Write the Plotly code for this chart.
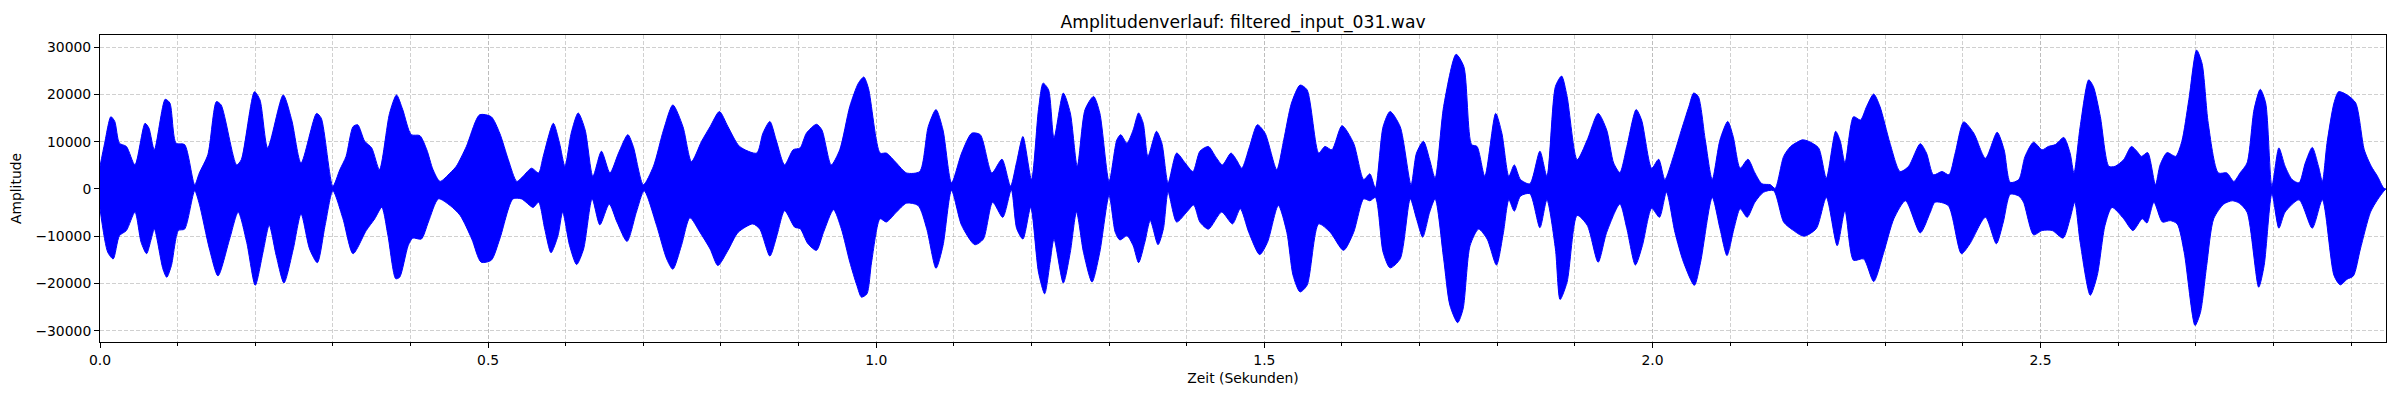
import plotly.graph_objects as go

# ---- data (envelope of the waveform) ----
t_upper = [0.000, 0.006, 0.014, 0.019, 0.025, 0.034, 0.045, 0.058, 0.063, 0.070,
           0.084, 0.090, 0.098, 0.109, 0.122, 0.128, 0.139, 0.150, 0.156, 0.176,
           0.182, 0.199, 0.206, 0.216, 0.236, 0.247, 0.259, 0.279, 0.285, 0.300,
           0.309, 0.317, 0.326, 0.332, 0.341, 0.350, 0.360, 0.373, 0.382, 0.390,
           0.401, 0.412, 0.421, 0.429, 0.438, 0.451, 0.459, 0.472, 0.489, 0.504,
           0.515, 0.526, 0.537, 0.545, 0.556, 0.565, 0.571, 0.584, 0.592, 0.599,
           0.607, 0.616, 0.625, 0.635, 0.646, 0.657, 0.668, 0.680, 0.687, 0.700,
           0.713, 0.726, 0.738, 0.751, 0.762, 0.775, 0.786, 0.798, 0.809, 0.824,
           0.846, 0.854, 0.863, 0.871, 0.882, 0.893, 0.902, 0.910, 0.923, 0.930,
           0.942, 0.953, 0.966, 0.977, 0.984, 0.990, 1.005, 1.013, 1.026, 1.039,
           1.056, 1.067, 1.077, 1.086, 1.097, 1.110, 1.123, 1.134, 1.149, 1.162,
           1.173, 1.181, 1.189, 1.200, 1.209, 1.215, 1.222, 1.229, 1.241, 1.250,
           1.259, 1.269, 1.280, 1.288, 1.300, 1.310, 1.315, 1.323, 1.331, 1.338,
           1.344, 1.350, 1.361, 1.368, 1.376, 1.387, 1.398, 1.408, 1.417, 1.428,
           1.437, 1.446, 1.457, 1.464, 1.471, 1.481, 1.491, 1.501, 1.516, 1.525,
           1.535, 1.546, 1.555, 1.570, 1.578, 1.587, 1.600, 1.615, 1.628, 1.636,
           1.643, 1.653, 1.662, 1.675, 1.689, 1.696, 1.705, 1.713, 1.720, 1.731,
           1.747, 1.757, 1.767, 1.774, 1.784, 1.798, 1.806, 1.815, 1.822, 1.830,
           1.842, 1.855, 1.864, 1.875, 1.883, 1.890, 1.903, 1.916, 1.930, 1.941,
           1.950, 1.958, 1.967, 1.979, 1.986, 1.999, 2.008, 2.016, 2.027, 2.036,
           2.047, 2.053, 2.059, 2.068, 2.077, 2.087, 2.097, 2.104, 2.113, 2.123,
           2.132, 2.141, 2.152, 2.158, 2.169, 2.178, 2.193, 2.201, 2.214, 2.224,
           2.236, 2.242, 2.248, 2.259, 2.268, 2.276, 2.285, 2.293, 2.306, 2.319,
           2.330, 2.345, 2.353, 2.362, 2.373, 2.382, 2.390, 2.401, 2.414, 2.429,
           2.444, 2.453, 2.461, 2.472, 2.480, 2.491, 2.502, 2.510, 2.519, 2.530,
           2.538, 2.543, 2.551, 2.562, 2.568, 2.577, 2.588, 2.596, 2.607, 2.617,
           2.624, 2.630, 2.638, 2.648, 2.654, 2.663, 2.674, 2.682, 2.691, 2.701,
           2.708, 2.716, 2.729, 2.740, 2.749, 2.757, 2.766, 2.775, 2.783, 2.790,
           2.798, 2.807, 2.815, 2.824, 2.833, 2.841, 2.850, 2.858, 2.863, 2.869,
           2.878, 2.884, 2.895, 2.906, 2.917, 2.926, 2.934, 2.942, 2.945]
amp_upper = [4800, 9700, 15300, 14300, 9700, 9000, 5100, 13900, 12900, 8300,
             19000, 18200, 9700, 9400, 900, 3400, 7300, 18500, 17800, 5100,
             6200, 20600, 18900, 8700, 19900, 14600, 5500, 16000, 15000, 600,
             4100, 6900, 13200, 13600, 10100, 8700, 4100, 16000, 19900, 16800,
             11500, 11300, 8300, 4100, 1600, 3400, 4800, 9000, 15700, 15300,
             11800, 6200, 1600, 2700, 4400, 3400, 6900, 13900, 9700, 4800,
             11800, 16100, 12500, 2700, 8000, 3400, 7600, 11500, 9000, 900,
             4800, 12500, 17800, 13200, 5800, 10100, 13200, 16400, 13200, 9000,
             7600, 11800, 14300, 10400, 5100, 8300, 8700, 11800, 13700, 12500,
             5100, 8300, 17500, 22400, 23700, 21300, 7600, 7600, 5500, 3400,
             3700, 13200, 16800, 12500, 1300, 7600, 11800, 11500, 3400, 6300,
             600, 5800, 11100, 2000, 16800, 22400, 21000, 10800, 20300, 16100,
             4800, 16800, 19600, 16100, 1600, 10400, 11500, 9700, 12500, 16100,
             13900, 6900, 12200, 9700, 1300, 7600, 5500, 3700, 8000, 9000,
             6900, 5100, 7600, 6200, 4400, 9000, 13600, 11800, 4100, 10400,
             18200, 22000, 21000, 7600, 9000, 8300, 13400, 9700, 2000, 3200,
             200, 13200, 16400, 13200, 900, 7600, 10100, 6200, 2300, 17500,
             28500, 25900, 9400, 9000, 2700, 16000, 11800, 2700, 5100, 2000,
             1100, 8000, 2700, 21700, 23900, 19600, 6200, 10400, 16000, 12500,
             5500, 3500, 9000, 16800, 14600, 4400, 6300, 2000, 6900, 11800,
             17500, 20300, 19600, 10400, 2000, 10400, 14300, 11100, 4400, 6300,
             3400, 1100, 900, 100, 6900, 9000, 10400, 10100, 8700, 2300,
             12200, 10100, 5500, 15300, 14600, 17500, 20100, 17500, 9700, 3700,
             4800, 9600, 7600, 3000, 3700, 3000, 7600, 14200, 11800, 6500,
             12000, 8300, 1400, 2000, 6900, 9900, 8300, 9000, 9400, 10900,
             7600, 3400, 13200, 23100, 21700, 15300, 4800, 4800, 6200, 9000,
             8000, 6900, 7700, 900, 5100, 7700, 6900, 10100, 18900, 29400,
             26600, 13900, 3400, 3400, 1600, 3400, 5500, 16800, 21100, 18200,
             600, 8700, 4800, 2000, 1300, 5500, 8800, 4800, 1600, 9700,
             18200, 20600, 19900, 18200, 8300, 4800, 2700, 200, 0]

t_lower = [0.000, 0.010, 0.017, 0.025, 0.034, 0.045, 0.053, 0.060, 0.066, 0.070,
           0.081, 0.086, 0.092, 0.101, 0.109, 0.122, 0.128, 0.141, 0.152, 0.167,
           0.178, 0.189, 0.200, 0.210, 0.218, 0.227, 0.237, 0.249, 0.259, 0.270,
           0.280, 0.290, 0.300, 0.313, 0.326, 0.343, 0.354, 0.363, 0.371, 0.381,
           0.386, 0.397, 0.403, 0.414, 0.423, 0.436, 0.451, 0.464, 0.479, 0.491,
           0.504, 0.515, 0.532, 0.543, 0.558, 0.565, 0.573, 0.581, 0.590, 0.596,
           0.605, 0.614, 0.623, 0.634, 0.644, 0.656, 0.666, 0.679, 0.691, 0.701,
           0.717, 0.730, 0.738, 0.749, 0.760, 0.773, 0.786, 0.796, 0.809, 0.822,
           0.841, 0.850, 0.863, 0.872, 0.882, 0.895, 0.902, 0.912, 0.923, 0.932,
           0.945, 0.955, 0.966, 0.975, 0.981, 0.988, 0.994, 1.005, 1.013, 1.026,
           1.039, 1.054, 1.065, 1.077, 1.086, 1.097, 1.110, 1.127, 1.138, 1.150,
           1.163, 1.174, 1.181, 1.189, 1.199, 1.209, 1.217, 1.224, 1.229, 1.241,
           1.250, 1.258, 1.267, 1.278, 1.288, 1.300, 1.308, 1.314, 1.323, 1.331,
           1.338, 1.346, 1.353, 1.363, 1.370, 1.376, 1.387, 1.400, 1.409, 1.417,
           1.428, 1.445, 1.459, 1.469, 1.480, 1.494, 1.504, 1.518, 1.529, 1.537,
           1.546, 1.555, 1.570, 1.585, 1.602, 1.615, 1.628, 1.636, 1.643, 1.653,
           1.662, 1.675, 1.688, 1.696, 1.704, 1.713, 1.720, 1.731, 1.739, 1.749,
           1.756, 1.765, 1.776, 1.787, 1.799, 1.808, 1.815, 1.822, 1.830, 1.842,
           1.855, 1.864, 1.875, 1.881, 1.890, 1.903, 1.916, 1.930, 1.941, 1.958,
           1.967, 1.978, 1.987, 1.999, 2.009, 2.018, 2.029, 2.040, 2.054, 2.062,
           2.077, 2.087, 2.096, 2.105, 2.113, 2.122, 2.132, 2.143, 2.156, 2.169,
           2.180, 2.195, 2.211, 2.224, 2.238, 2.248, 2.259, 2.272, 2.285, 2.298,
           2.311, 2.326, 2.345, 2.358, 2.364, 2.381, 2.398, 2.409, 2.429, 2.443,
           2.452, 2.461, 2.472, 2.478, 2.491, 2.502, 2.515, 2.529, 2.538, 2.544,
           2.551, 2.564, 2.573, 2.583, 2.592, 2.607, 2.619, 2.631, 2.637, 2.646,
           2.657, 2.667, 2.676, 2.685, 2.699, 2.706, 2.714, 2.723, 2.736, 2.747,
           2.756, 2.766, 2.781, 2.788, 2.798, 2.807, 2.815, 2.833, 2.850, 2.863,
           2.878, 2.886, 2.895, 2.903, 2.912, 2.925, 2.934, 2.942, 2.945]
amp_lower = [-4200, -13400, -14800, -9900, -8800, -4900, -11300, -13700, -10600, -8500,
             -16900, -18700, -16200, -8800, -8500, -400, -3200, -12700, -18400, -10600,
             -4900, -11300, -20400, -13400, -7700, -14100, -19900, -12700, -5300, -12700,
             -15600, -7700, -400, -6300, -13700, -8800, -6300, -3900, -9900, -19000,
             -18700, -12000, -10400, -10600, -7000, -2100, -3500, -5600, -10600, -15500,
             -15100, -10600, -2100, -2100, -3900, -2800, -8500, -13500, -9900, -4900,
             -12000, -16000, -12700, -2100, -7600, -3200, -7000, -11100, -4900, -400,
             -7700, -14800, -17000, -12000, -6100, -9200, -12700, -16200, -13000, -9200,
             -7400, -8500, -14200, -9900, -4600, -8100, -8400, -11600, -13000, -9200,
             -4400, -8400, -15500, -20400, -22900, -22200, -15500, -6300, -7000, -4900,
             -3000, -3500, -8400, -16800, -12000, -300, -7700, -11800, -10600, -2800,
             -6000, -200, -8400, -10600, -3900, -17600, -22200, -15500, -10600, -19900,
             -13400, -4900, -13400, -19700, -13400, -1400, -9200, -10800, -9900, -12000,
             -15600, -11300, -6700, -11800, -8400, -700, -7000, -4900, -3400, -7000,
             -8500, -4900, -7400, -4200, -9200, -13900, -11300, -3500, -9200, -18300,
             -21800, -20400, -7400, -9200, -13000, -9200, -2100, -2500, -1800, -13400,
             -16700, -14800, -2100, -6300, -10200, -4900, -2100, -14800, -24600, -28300,
             -25400, -12000, -8500, -10600, -16100, -9200, -2300, -4700, -1500, -1000,
             -8200, -2300, -12700, -23400, -19700, -5600, -7700, -15500, -9200, -3200,
             -8400, -16100, -12000, -4100, -6000, -700, -9200, -15500, -20400, -15500,
             -1800, -8400, -14100, -8400, -4200, -6000, -2800, -700, -350, -7000,
             -8600, -10000, -8400, -1800, -12000, -4600, -15100, -14800, -19600, -13400,
             -6300, -2500, -9300, -4900, -2800, -3500, -13700, -11600, -6000, -11600,
             -7000, -1100, -1500, -2800, -9700, -8800, -8800, -10400, -6300, -2800,
             -11300, -22500, -18300, -7700, -3900, -6300, -8800, -6300, -7200, -2800,
             -7000, -6700, -7400, -13400, -28900, -26100, -16200, -6300, -3200, -2500,
             -3000, -4900, -20800, -16200, -1000, -8300, -4900, -2300, -8300, -2300,
             -18300, -20300, -19100, -18400, -12700, -4900, -2300, -500, 0]

x_tick_vals = [0.0, 0.5, 1.0, 1.5, 2.0, 2.5]
x_tick_text = ["0.0", "0.5", "1.0", "1.5", "2.0", "2.5"]
y_tick_vals = [-30000, -20000, -10000, 0, 10000, 20000, 30000]
y_tick_text = ["\u221230000", "\u221220000", "\u221210000", "0", "10000", "20000", "30000"]

title_text = "Amplitudenverlauf: filtered_input_031.wav"
x_label = "Zeit (Sekunden)"
y_label = "Amplitude"

# closed polygon: upper envelope forward, lower envelope backward
poly_x = t_upper + t_lower[::-1]
poly_y = amp_upper + amp_lower[::-1]

fig = go.Figure()
fig.add_trace(go.Scatter(
    x=poly_x, y=poly_y, mode="lines", fill="toself",
    fillcolor="rgb(0,0,255)",
    line=dict(color="rgb(0,0,255)", width=1, shape="spline", smoothing=0.7),
    hoverinfo="skip", showlegend=False,
))

font_family = "DejaVu Sans"
grid_color = "rgba(176,176,176,0.6)"

# the page body has an 8px margin, so the figure is 8px smaller than the window
W, H = 2392, 392
fig.update_layout(
    width=W, height=H,
    margin=dict(l=92, r=14, t=27, b=58, autoexpand=False),
    paper_bgcolor="white", plot_bgcolor="white",
    font=dict(family=font_family, size=14, color="black"),
    title=dict(text=title_text, x=0.5, xref="paper", xanchor="center",
               y=1 - 14 / H, yanchor="middle", yref="container",
               font=dict(family=font_family, size=17.2, color="black")),
    showlegend=False,
)

fig.update_xaxes(
    range=[0, 2.945], tickvals=x_tick_vals, ticktext=x_tick_text,
    ticks="outside", ticklen=5, tickwidth=1, tickcolor="black",
    showline=True, mirror=True, linecolor="black", linewidth=1,
    showgrid=True, gridcolor=grid_color, gridwidth=1, griddash="4px,2px",
    zeroline=False,
    tickfont=dict(family=font_family, size=13.9, color="black"),
    title=dict(text=x_label, standoff=6,
               font=dict(family=font_family, size=13.9, color="black")),
    minor=dict(dtick=0.1, tick0=0, ticks="outside", ticklen=3, tickwidth=1,
               tickcolor="black", showgrid=True, gridcolor=grid_color,
               gridwidth=1, griddash="4px,2px"),
)

fig.update_yaxes(
    range=[-32400, 32600], tickvals=y_tick_vals, ticktext=y_tick_text,
    ticks="outside", ticklen=5, tickwidth=1, tickcolor="black",
    showline=True, mirror=True, linecolor="black", linewidth=1,
    showgrid=True, gridcolor=grid_color, gridwidth=1, griddash="4px,2px",
    zeroline=False,
    tickfont=dict(family=font_family, size=13.9, color="black"),
    title=dict(text=y_label, standoff=12,
               font=dict(family=font_family, size=13.9, color="black")),
)

fig.write_html("out.html")
